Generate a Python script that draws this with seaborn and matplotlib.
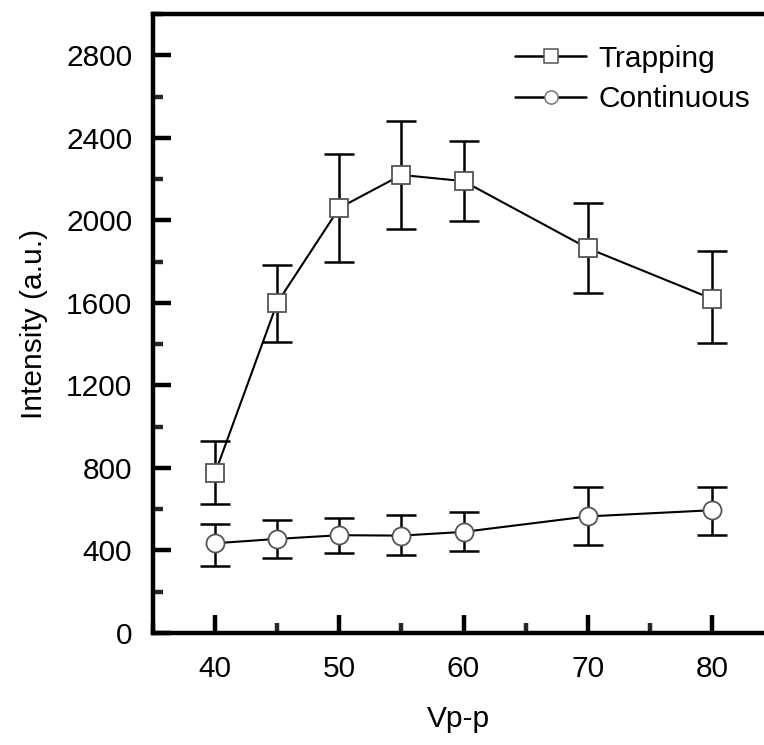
import matplotlib
matplotlib.use("Agg")
import matplotlib.pyplot as plt
import seaborn as sns
import pandas as pd
from matplotlib.ticker import MultipleLocator
from matplotlib.lines import Line2D

vpp = [40, 45, 50, 55, 60, 70, 80]
trapping = [775, 1600, 2060, 2220, 2190, 1865, 1620]
trapping_lo = [625, 1410, 1800, 1960, 1995, 1650, 1405]
trapping_hi = [930, 1785, 2320, 2480, 2385, 2085, 1850]
continuous = [435, 456, 474, 472, 490, 565, 595]
continuous_lo = [326, 364, 388, 376, 395, 425, 475]
continuous_hi = [529, 549, 557, 572, 585, 710, 710]

sns.set_theme(style="white")
plt.rcParams['font.family'] = ['Liberation Sans', 'DejaVu Sans']
plt.rcParams['text.color'] = 'black'
plt.rcParams['axes.labelcolor'] = 'black'

df = pd.concat([
    pd.DataFrame({"Vp-p": vpp, "Intensity": trapping, "Series": "Trapping"}),
    pd.DataFrame({"Vp-p": vpp, "Intensity": continuous, "Series": "Continuous"}),
])

fig = plt.figure(figsize=(7.64, 7.45), dpi=100)
ax = fig.add_axes([153/764, 1-633/745, 1-153/764, (633-14)/745])

for lo, hi, vals in [(trapping_lo, trapping_hi, trapping),
                     (continuous_lo, continuous_hi, continuous)]:
    yerr = [[v - l for v, l in zip(vals, lo)], [h - v for v, h in zip(vals, hi)]]
    ax.errorbar(vpp, vals, yerr=yerr, fmt='none', ecolor='black', elinewidth=1.8,
                capsize=11, capthick=1.8, zorder=2)

sns.lineplot(data=df, x="Vp-p", y="Intensity", hue="Series", style="Series",
             markers={"Trapping": "s", "Continuous": "o"}, dashes=False,
             palette={"Trapping": "black", "Continuous": "black"},
             markersize=13, markerfacecolor="white", markeredgecolor="#555555",
             markeredgewidth=1.3, linewidth=1.5, ax=ax, zorder=3, legend=False)

handles = [Line2D([], [], color='black', lw=1.8, marker='s', markersize=9.5,
                  markerfacecolor='white', markeredgecolor='#555555', markeredgewidth=1.1),
           Line2D([], [], color='black', lw=1.8, marker='o', markersize=9.5,
                  markerfacecolor='white', markeredgecolor='#777777', markeredgewidth=1.1)]
ax.legend(handles, ["Trapping", "Continuous"], loc='upper left',
          bbox_to_anchor=(0.592, 0.95), frameon=False, fontsize=21.5,
          handlelength=2.4, handletextpad=0.4, labelspacing=0.42, borderaxespad=0,
          borderpad=0, labelcolor='black')

ax.set_xlim(35, 35 + 611/12.42)
ax.set_ylim(0, 3000)
ax.xaxis.set_minor_locator(MultipleLocator(5))
ax.yaxis.set_minor_locator(MultipleLocator(200))
ax.set_xticks([40, 50, 60, 70, 80])
ax.set_yticks([0, 400, 800, 1200, 1600, 2000, 2400, 2800])

for side in ['left', 'bottom', 'top']:
    ax.spines[side].set_linewidth(3.2)
    ax.spines[side].set_color('black')
ax.spines['right'].set_visible(False)

ax.tick_params(axis='both', which='major', direction='in', length=13, width=3.2,
               labelsize=21.5, colors='black')
ax.tick_params(axis='x', which='major', pad=16)
ax.tick_params(axis='y', which='major', pad=15)
ax.tick_params(axis='both', which='minor', direction='in', length=7, width=3.2)
ax.tick_params(axis='both', which='both', top=False, right=False, left=True, bottom=True)

ax.set_xlabel("Vp-p", fontsize=21.5, labelpad=16)
ax.set_ylabel("Intensity (a.u.)", fontsize=21.5, labelpad=13)

fig.savefig("out.png", dpi=100)
